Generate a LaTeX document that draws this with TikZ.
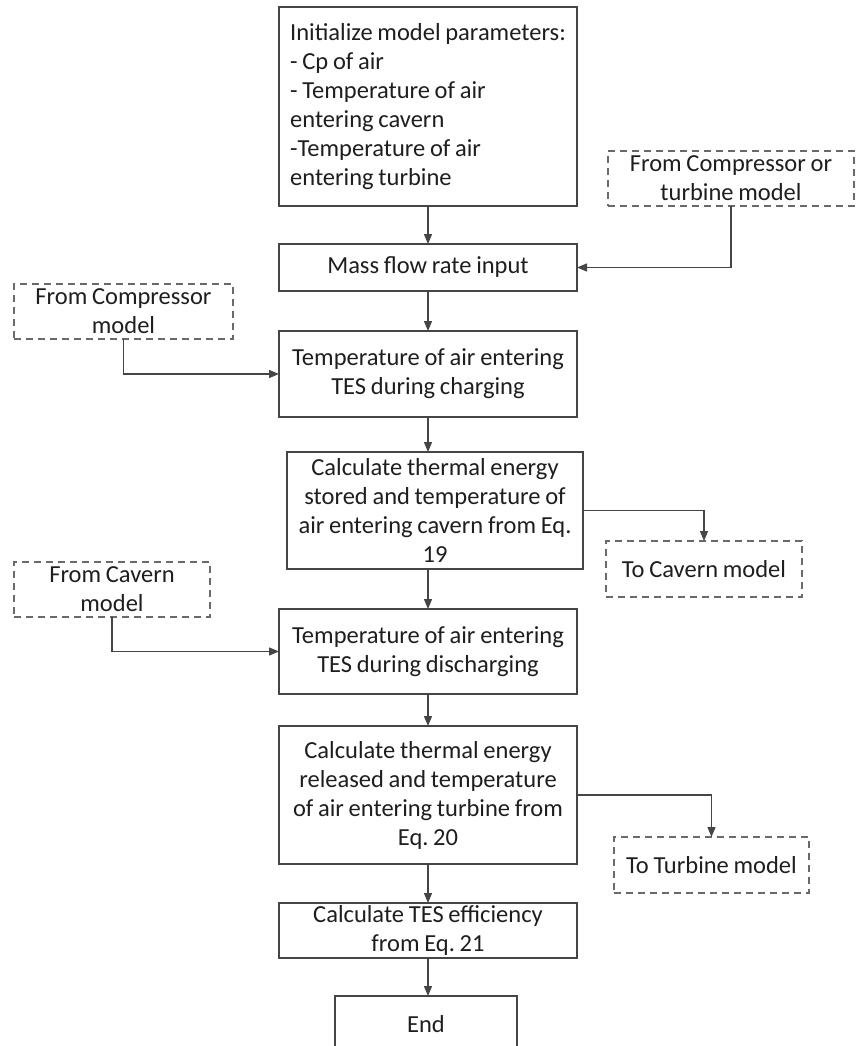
\documentclass[tikz,border=0pt]{standalone}
\usepackage{fontspec}
\setmainfont[WordSpace=0.85]{Carlito}
\usetikzlibrary{arrows.meta}
\definecolor{boxline}{HTML}{454545}
\definecolor{dashline}{HTML}{6A6A6A}
\definecolor{txt}{HTML}{1E1E1E}
\frenchspacing
\begin{document}
\begin{tikzpicture}[x=1pt,y=-1pt,
  every node/.style={font=\fontsize{24.5}{29}\selectfont, text=txt, inner sep=0pt, outer sep=0pt},
  procbox/.style={draw=boxline, line width=1.3pt, minimum width=#1, align=center},
  procbox/.default=298pt,
  extbox/.style={draw=dashline, line width=1.3pt, dash pattern=on 7pt off 5pt, align=center},
  flow/.style={draw=boxline, line width=1.3pt, -{Triangle[length=10pt,width=8pt]}}]
\useasboundingbox (0,0) rectangle (855,1046);
\clip (0,0) rectangle (855,1046);

% main column
\node[procbox, minimum height=199pt, align=left] (init) at (428,106.5)
  {Initialize model parameters:\\- Cp of air\\- Temperature of air\\entering cavern\\-Temperature of air\\entering turbine};
\node[procbox, minimum height=47pt] (mass) at (428,267.5) {Mass flow rate input};
\node[procbox, minimum height=86pt] (charge) at (428,374) {Temperature of air entering\\TES during charging};
\node[procbox=296pt, minimum height=117pt] (stored) at (435,510.5)
  {Calculate thermal energy\\stored and temperature of\\air entering cavern from Eq.\\19};
\node[procbox, minimum height=85pt] (discharge) at (428,651.5) {Temperature of air entering\\TES during discharging};
\node[procbox, minimum height=138pt] (released) at (428,795)
  {Calculate thermal energy\\released and temperature\\of air entering turbine from\\Eq. 20};
\node[procbox, minimum height=55pt] (eff) at (428,930.5) {Calculate TES efficiency\\from Eq. 21};
\node[procbox=182pt, minimum height=56pt] (end) at (426,1024) {End};

% external models
\node[extbox, minimum width=246pt, minimum height=55pt] (fromCT) at (731,178.5) {From Compressor or\\turbine model};
\node[extbox, minimum width=219pt, minimum height=55pt] (fromC) at (123.5,311.5) {From Compressor\\model};
\node[extbox, minimum width=196pt, minimum height=56pt] (toCav) at (704,569) {To Cavern model};
\node[extbox, minimum width=196pt, minimum height=55pt] (fromCav) at (112,589.5) {From Cavern\\model};
\node[extbox, minimum width=195pt, minimum height=56pt] (toTurb) at (711.5,865) {To Turbine model};

% connectors
\draw[flow] (init.south) -- (mass.north);
\draw[flow] (fromCT.south) |- (mass.east);
\draw[flow] (mass.south) -- (charge.north);
\draw[flow] (fromC.south) |- (charge.west);
\draw[flow] (charge.south) -- (charge.south |- stored.north);
\draw[flow] (stored.east) -| (toCav.north);
\draw[flow] (discharge.north |- stored.south) -- (discharge.north);
\draw[flow] (fromCav.south) |- (discharge.west);
\draw[flow] (discharge.south) -- (released.north);
\draw[flow] (released.east) -| (toTurb.north);
\draw[flow] (released.south) -- (eff.north);
\draw[flow] (eff.south) -- (eff.south |- end.north);
\end{tikzpicture}
\end{document}
